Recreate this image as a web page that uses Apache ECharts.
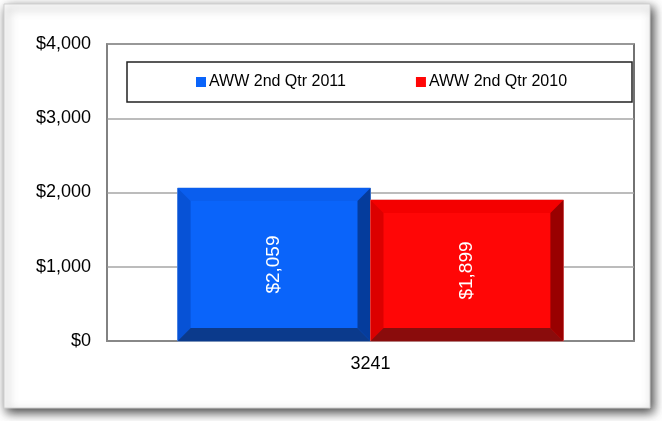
<!DOCTYPE html>
<html>
<head>
<meta charset="utf-8">
<script src="https://cdn.jsdelivr.net/npm/echarts@6/dist/echarts.min.js"></script>
<style>
html,body{margin:0;padding:0;background:#ffffff;}
#c{width:662px;height:421px;}
</style>
</head>
<body>
<div id="c"></div>
<script>
var categories = ['3241'];
var seriesNames = ['AWW 2nd Qtr 2011', 'AWW 2nd Qtr 2010'];
var values2011 = [2059];
var values2010 = [1899];
var yTicks = [0, 1000, 2000, 3000, 4000];

var blueShades = {main:'#0a64fa', top:'#0a5eee', left:'#0752d6', right:'#053c9c', bottom:'#0b3a8c', edge:'#6a9ae8'};
var redShades = {main:'#ff0606', top:'#f40000', left:'#dc0000', right:'#990000', bottom:'#8a0c0c', edge:'#e07070'};

function fmt(v){
  return '$' + String(Math.round(v)).replace(/\B(?=(\d{3})+(?!\d))/g, ',');
}

function makeRender(sh, side){
  return function(params, api){
    var cat = api.value(0), val = api.value(1);
    var base = api.coord([cat, 0]);
    var top = api.coord([cat, val]);
    var band = api.size([1, 0])[0];
    var w = band * 0.366;
    var x0 = side < 0 ? base[0] - w : base[0];
    var x1 = x0 + w;
    var y0 = top[1], y1 = base[1];
    var b = 13;
    return {
      type: 'group',
      children: [
        {type:'rect', shape:{x:x0, y:y0, width:w, height:y1-y0}, style:{fill:sh.main, stroke:sh.edge, lineWidth:1}},
        {type:'polygon', shape:{points:[[x0,y0],[x1,y0],[x1-b,y0+b],[x0+b,y0+b]]}, style:{fill:sh.top}},
        {type:'polygon', shape:{points:[[x0,y0],[x0+b,y0+b],[x0+b,y1-b],[x0,y1]]}, style:{fill:sh.left}},
        {type:'polygon', shape:{points:[[x1,y0],[x1,y1],[x1-b,y1-b],[x1-b,y0+b]]}, style:{fill:sh.right}},
        {type:'polygon', shape:{points:[[x0,y1],[x0+b,y1-b],[x1-b,y1-b],[x1,y1]]}, style:{fill:sh.bottom}},
        {type:'text', x:(x0+x1)/2, y:(y0+y1)/2, rotation:Math.PI/2,
          style:{text:fmt(val), fill:'#ffffff', font:'19px "Liberation Sans", Arial, sans-serif', align:'center', verticalAlign:'middle'}}
      ]
    };
  };
}

var chart = echarts.init(document.getElementById('c'), null, {renderer:'canvas'});
chart.setOption({
  animation: false,
  backgroundColor: '#ffffff',
  textStyle: {fontFamily: '"Liberation Sans", Arial, sans-serif'},
  graphic: [
    {type:'rect', z:-10, shape:{x:4, y:4, width:646, height:404},
      style:{fill:'#ffffff', stroke:'#d0d0d0', lineWidth:1, shadowBlur:10, shadowOffsetX:3, shadowOffsetY:4, shadowColor:'rgba(0,0,0,0.75)'}},
    {type:'rect', z:5, shape:{x:127, y:62, width:505, height:40},
      style:{fill:'#ffffff', stroke:'#222222', lineWidth:1.5}}
  ],
  grid: {left:107, top:44, right:28, bottom:80, show:true, borderColor:'#444444', borderWidth:1.5, backgroundColor:'#ffffff'},
  legend: {
    data: seriesNames,
    left: 196, top: 74, z: 6, padding: 0,
    icon: 'rect', itemWidth: 10, itemHeight: 10, itemGap: 70,
    textStyle: {fontSize: 16, color: '#000000', padding: [0,0,0,-2], fontFamily: '"Liberation Sans", Arial, sans-serif'}
  },
  xAxis: {
    type: 'category', data: categories,
    axisLine: {show:true, lineStyle:{color:'#888888', width:2}},
    axisTick: {show:false},
    axisLabel: {fontSize:18, color:'#000000', margin:14}
  },
  yAxis: {
    type: 'value', min: yTicks[0], max: yTicks[yTicks.length-1], interval: 1000,
    axisLine: {show:true, lineStyle:{color:'#888888', width:1.5}},
    axisTick: {show:false},
    splitLine: {show:true, lineStyle:{color:'#a6a6a6', width:1.5}},
    axisLabel: {fontSize:18, color:'#000000', margin:16, formatter: function(v){return fmt(v);}}
  },
  series: [
    {name: seriesNames[0], type:'custom', itemStyle:{color:blueShades.main}, z:3,
      data: categories.map(function(c,i){return [i, values2011[i]];}),
      renderItem: makeRender(blueShades, -1)},
    {name: seriesNames[1], type:'custom', itemStyle:{color:redShades.main}, z:3,
      data: categories.map(function(c,i){return [i, values2010[i]];}),
      renderItem: makeRender(redShades, 1)}
  ]
});
</script>
</body>
</html>
